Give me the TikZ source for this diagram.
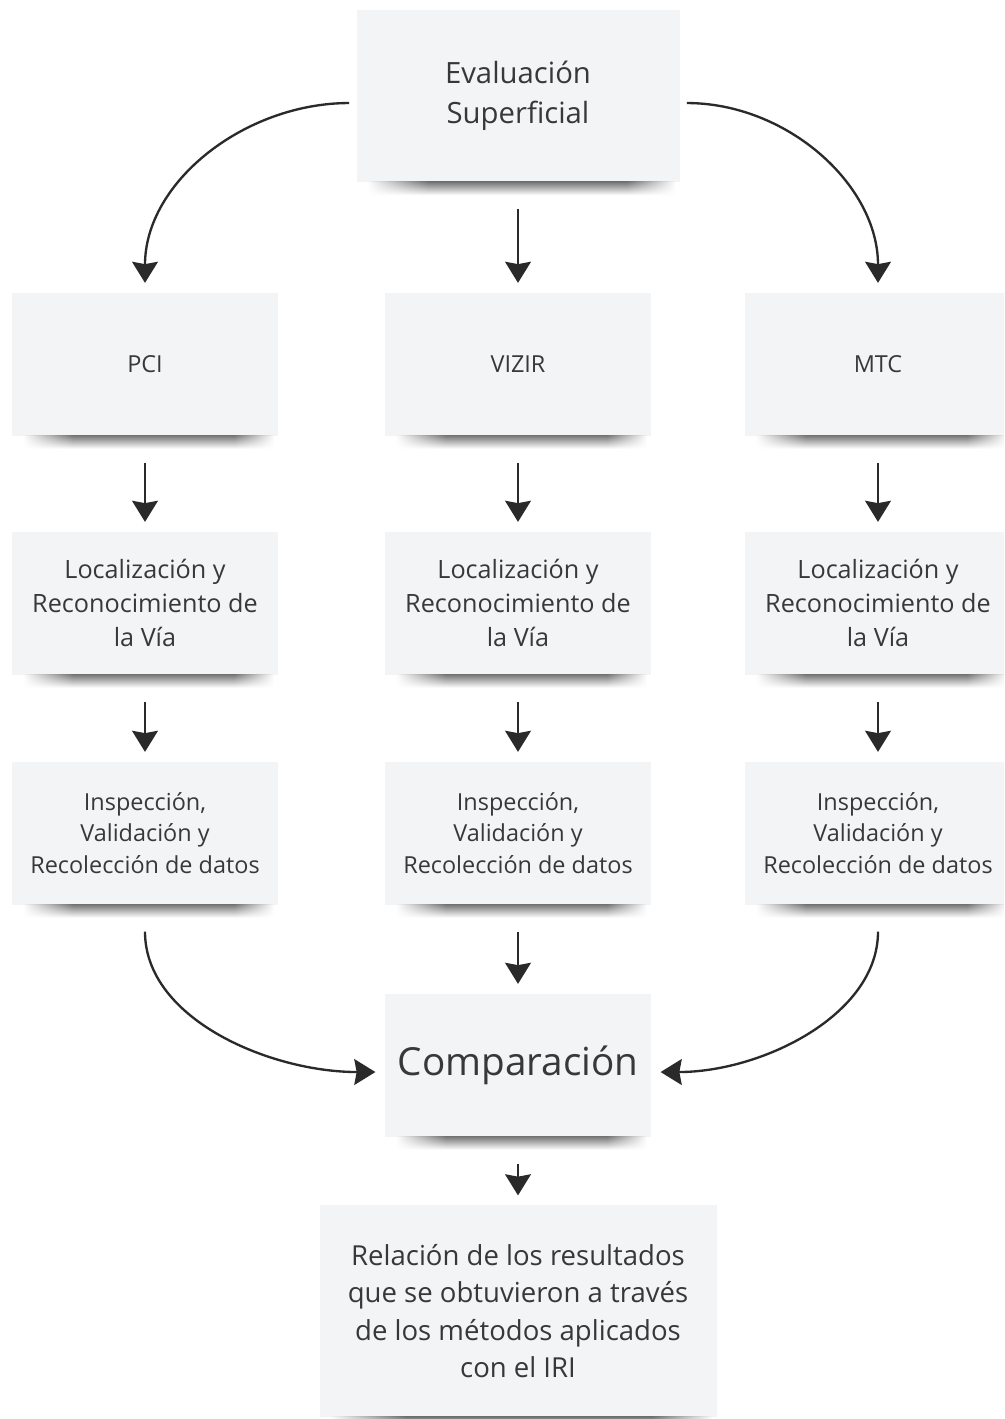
\documentclass[tikz,border=0pt]{standalone}
\usepackage{fontspec}
\setmainfont{Open Sans}
\usetikzlibrary{arrows.meta,fadings}

\definecolor{notefill}{HTML}{F3F4F6}
\definecolor{notetext}{HTML}{383838}
\definecolor{arrowink}{HTML}{2A2A2A}

% sombra con extremos difuminados
\pgfdeclarehorizontalshading{edgeshade}{100bp}{color(0bp)=(black); color(25bp)=(black);
  color(35bp)=(white); color(67bp)=(white); color(75bp)=(black); color(100bp)=(black)}
\pgfdeclarefading{edgefade}{\pgfuseshading{edgeshade}}

\tikzset{
  note/.style={fill=notefill, text=notetext, align=center, inner sep=0pt,
    minimum width=79.8mm, minimum height=42.9mm},
  noteshadow/.style={top color=black!55, bottom color=white, path fading=edgefade},
  flow/.style={draw=arrowink, line width=2pt,
    -{Stealth[length=18pt,width=22pt,inset=2pt]},
    shorten <=23pt, shorten >=8pt},
  sideflow/.style={flow, shorten <=6pt}
}

\begin{document}
\begin{tikzpicture}[x=0.3mm,y=0.3mm]
  \useasboundingbox (0,0) rectangle (1004,-1419);
  \fill[white] (0,0) rectangle (1004,-1419);
  \clip (0,0) rectangle (1004,-1419);

  % cabecera
  \node[note, minimum width=96.9mm, minimum height=51.6mm,
        font=\fontsize{25}{34}\selectfont] (eval) at (518,-96) {Evaluación\\Superficial};

  % las tres columnas
  \foreach \name/\lbl/\xx in {pci/PCI/145, vizir/VIZIR/518, mtc/MTC/878}{
    \node[note, font=\fontsize{20}{24}\selectfont] (\name) at (\xx,-364) {\lbl};
    \node[note, font=\fontsize{21.5}{29}\selectfont] (loc\name) at (\xx,-603)
      {Localización y\\Reconocimiento de\\la Vía};
    \node[note, font=\fontsize{20}{27}\selectfont] (insp\name) at (\xx,-833)
      {Inspección,\\Validación y\\Recolección de datos};
    \draw[flow] (\name) -- (loc\name);
    \draw[flow] (loc\name) -- (insp\name);
  }

  \node[note, font=\fontsize{33}{40}\selectfont] (comp) at (518,-1065) {Comparación};
  \node[note, minimum width=119.1mm, minimum height=63.6mm,
        font=\fontsize{23.5}{32}\selectfont] (rel) at (518,-1311)
    {Relación de los resultados\\que se obtuvieron a través\\de los métodos aplicados\\con el IRI};

  % sombras
  \foreach \n in {eval,pci,vizir,mtc,locpci,locvizir,locmtc,insppci,inspvizir,inspmtc,comp,rel}
    \shade[noteshadow] ([xshift=10pt,yshift=0.5pt]\n.south west) rectangle ([xshift=-4pt,yshift=-11pt]\n.south east);

  % conectores
  \draw[sideflow] ([yshift=-6pt]eval.west) to[out=180,in=90] (pci.north);
  \draw[flow] (eval) -- (vizir);
  \draw[sideflow] ([yshift=-6pt]eval.east) to[out=0,in=90] (mtc.north);

  \draw[flow] (insppci.south) to[out=-90,in=180] ([yshift=-6pt]comp.west);
  \draw[flow] (inspvizir) -- (comp);
  \draw[flow] (inspmtc.south) to[out=-90,in=0] ([yshift=-6pt]comp.east);

  \draw[flow] (comp) -- (rel);
\end{tikzpicture}
\end{document}
